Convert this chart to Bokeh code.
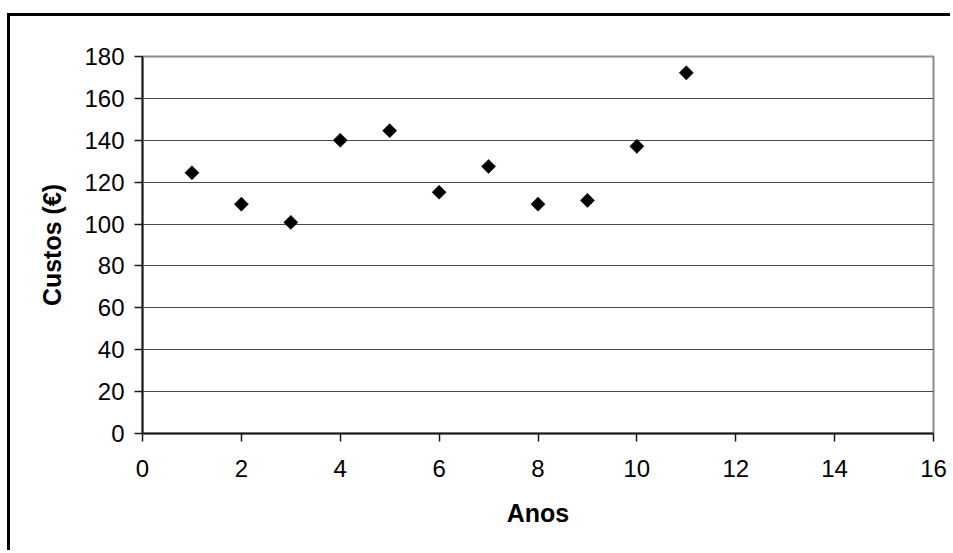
from bokeh.plotting import figure
from bokeh.models import Range1d, FixedTicker, ColumnDataSource
from bokeh.embed import file_html
from bokeh.resources import INLINE
import math

# Annual costs (€) per year
anos = [1, 2, 3, 4, 5, 6, 7, 8, 9, 10, 11]
custos = [124.5, 109.5, 100.8, 140, 144.6, 115.2, 127.5, 109.5, 111.3, 137.1, 172.2]

x_ticks = [0, 2, 4, 6, 8, 10, 12, 14, 16]
y_ticks = [0, 20, 40, 60, 80, 100, 120, 140, 160, 180]

FONT = "Liberation Sans"

# offset of the chart-area border inside the window
OFF_L, OFF_T, BW = 7, 13, 3

p = figure(
    width=953 - OFF_L - BW, height=553 - OFF_T - BW,
    output_backend="svg", toolbar_location=None,
    x_range=Range1d(0, 16), y_range=Range1d(0, 180),
    min_border_left=142 - OFF_L - BW, min_border_right=20,
    min_border_top=56 - OFF_T - BW, min_border_bottom=120 - OFF_T - BW + 16,
    background_fill_color="white", border_fill_color="white",
)
p.margin = (OFF_T, 0, 0, OFF_L)
p.styles = {"border-left": f"{BW}px solid black", "border-top": f"{BW}px solid black"}

# plot-area frame: grey, left/bottom hidden under the axes
p.outline_line_color = "#8c8c8c"
p.outline_line_width = 2

# gridlines: horizontal only
p.xgrid.visible = False
p.ygrid.ticker = FixedTicker(ticks=y_ticks)
p.ygrid.grid_line_color = "#4a4a4a"
p.ygrid.grid_line_width = 1

for ax, ticks in ((p.xaxis[0], x_ticks), (p.yaxis[0], y_ticks)):
    ax.ticker = FixedTicker(ticks=ticks)
    ax.axis_line_color = "#1a1a1a"
    ax.axis_line_width = 2
    ax.major_tick_line_color = "#1a1a1a"
    ax.major_tick_line_width = 1.5
    ax.major_tick_out = 8
    ax.major_tick_in = 0
    ax.minor_tick_line_color = None
    ax.major_label_text_font = FONT
    ax.major_label_text_font_size = "24px"
    ax.major_label_text_color = "black"
    ax.axis_label_text_font = FONT
    ax.axis_label_text_font_size = "25px"
    ax.axis_label_text_font_style = "bold"
    ax.axis_label_text_color = "black"

p.xaxis.axis_label = "Anos"
p.yaxis.axis_label = "Custos (€)"
p.xaxis.major_label_standoff = 18
p.xaxis.axis_label_standoff = 19
p.yaxis.major_label_standoff = 10
p.yaxis.axis_label_standoff = 15

src = ColumnDataSource(data=dict(x=anos, y=custos))
p.scatter("x", "y", source=src, marker="square", size=10, angle=math.pi / 4,
          fill_color="black", line_color="black", line_width=0.5)

open("out.html", "w").write(file_html(p, INLINE))
